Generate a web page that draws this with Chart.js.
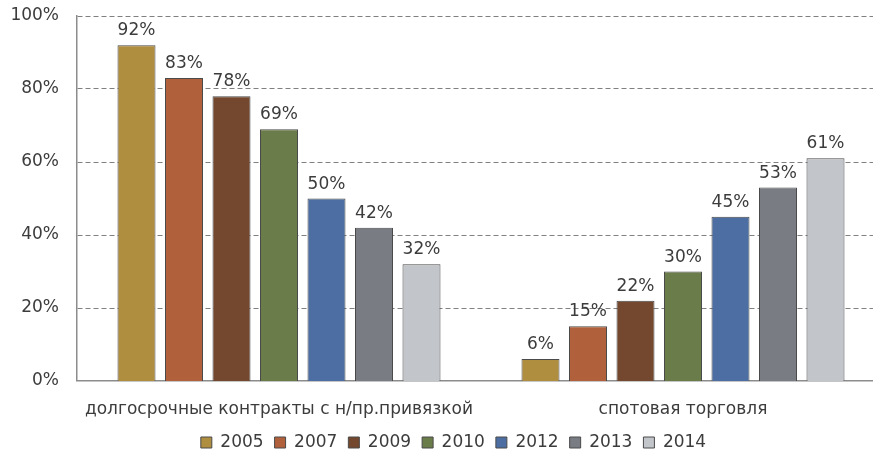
<!doctype html>
<html lang="ru">

<head>
    <meta charset="utf-8">
    <title>Контракты и спотовая торговля</title>
    <style>
        html, body { margin: 0; padding: 0; background: #fff; overflow: hidden; }
        #wrap { width: 890px; height: 461px; }
    </style>
</head>

<body>
    <div id="wrap"><canvas id="chart" width="890" height="461"></canvas></div>

    <script src="https://cdn.jsdelivr.net/npm/chart.js"></script>
    <script>
        const categories = ["долгосрочные контракты с н/пр.привязкой", "спотовая торговля"];
        const years = ["2005", "2007", "2009", "2010", "2012", "2013", "2014"];
        const longTerm = [92, 83, 78, 69, 50, 42, 32];
        const spot = [6, 15, 22, 30, 45, 53, 61];
        const colors = ["#b08e40", "#b0603a", "#74472f", "#6b7c4b", "#4c6ea3", "#7a7c84", "#c2c5ca"];
        const yTicks = [0, 20, 40, 60, 80, 100];

        const font = { family: "DejaVu Sans", size: 17 };
        const textColor = "#3c3c3c";

        // value labels above every bar
        const barLabels = {
            id: "barLabels",
            afterDatasetsDraw(chart) {
                const c = chart.ctx;
                c.save();
                c.font = "17px 'DejaVu Sans'";
                c.fillStyle = textColor;
                c.textAlign = "center";
                c.textBaseline = "alphabetic";
                chart.data.datasets.forEach((ds, i) => {
                    chart.getDatasetMeta(i).data.forEach((bar, j) => {
                        c.fillText(ds.data[j] + "%", bar.x, bar.y - 10);
                    });
                });
                c.restore();
            }
        };

        // nudge the legend a bit to the right
        const legendShift = {
            id: "legendShift",
            afterLayout(chart) {
                chart.legend.left += 7;
                chart.legend.right += 7;
            }
        };

        const datasets = years.map((y, i) => ({
            label: y,
            data: [longTerm[i], spot[i]],
            backgroundColor: colors[i],
            borderColor: "#4a4a4a",
            borderWidth: 1,
            barPercentage: 0.8,
            categoryPercentage: 0.823
        }));

        new Chart(document.getElementById("chart"), {
            type: "bar",
            data: { labels: categories, datasets: datasets },
            options: {
                responsive: false,
                animation: false,
                layout: { padding: { left: 8, right: 5, top: 16, bottom: 0 } },
                plugins: {
                    legend: {
                        position: "bottom",
                        labels: {
                            boxWidth: 11,
                            boxHeight: 11,
                            padding: 11,
                            color: textColor,
                            font: font
                        }
                    },
                    tooltip: { enabled: false }
                },
                scales: {
                    x: {
                        afterFit(scale) { scale.height = 42; },
                        grid: { display: false, drawTicks: false },
                        border: { color: "#8c8c8c", width: 1.5 },
                        ticks: { color: textColor, font: font, padding: 18 }
                    },
                    y: {
                        min: 0,
                        max: 100,
                        afterFit(scale) {
                            scale.width = 69;
                            scale.paddingTop = 0;
                            scale.paddingBottom = 0;
                        },
                        afterBuildTicks(scale) { scale.ticks = yTicks.map(v => ({ value: v })); },
                        grid: {
                            color: "#808080",
                            drawTicks: false,
                            lineWidth: ctx => ctx.tick.value === 0 ? 0 : 1
                        },
                        // dashes for the horizontal grid lines
                        border: { color: "#8c8c8c", width: 1.5, dash: [5, 3] },
                        ticks: {
                            color: textColor,
                            font: font,
                            padding: 18,
                            callback: v => v + "%"
                        }
                    }
                }
            },
            plugins: [barLabels, legendShift]
        });
    </script>
</body>

</html>
